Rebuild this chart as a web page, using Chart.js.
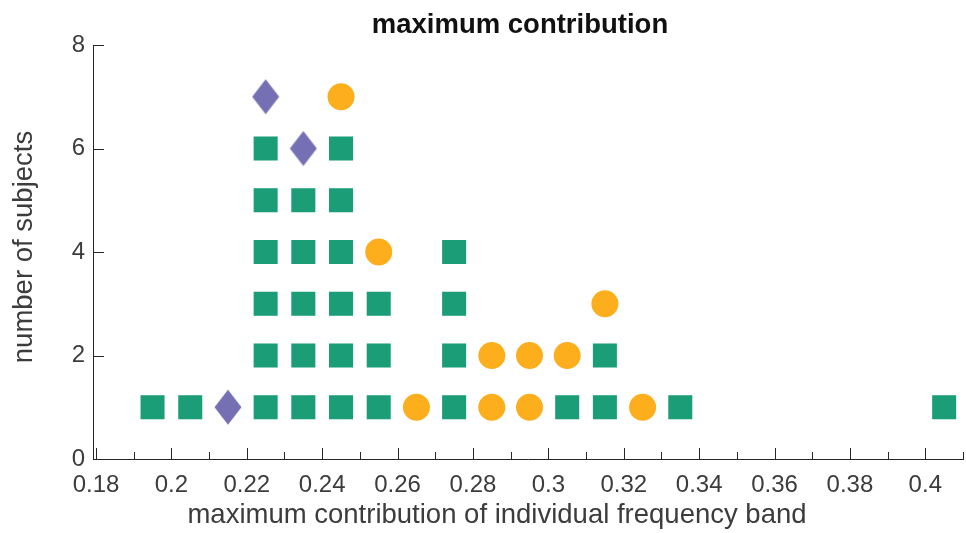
<!DOCTYPE html>
<html><head><meta charset="utf-8">
<script src="https://cdn.jsdelivr.net/npm/chart.js@4.4.1/dist/chart.umd.min.js"></script>
<style>html,body{margin:0;padding:0;background:#fff;}</style>
</head><body>
<canvas id="c" width="966" height="533"></canvas>
<script>
const titleText = 'maximum contribution';
const xLabelText = 'maximum contribution of individual frequency band';
const yLabelText = 'number of subjects';

const xTicks = [0.18,0.2,0.22,0.24,0.26,0.28,0.3,0.32,0.34,0.36,0.38,0.4];
const xTickLabels = ['0.18','0.2','0.22','0.24','0.26','0.28','0.3','0.32','0.34','0.36','0.38','0.4'];
const xMinorTicks = [0.19,0.21,0.23,0.25,0.27,0.29,0.31,0.33,0.35,0.37,0.39,0.41];
const yTicks = [0,2,4,6,8];

const squareX = [0.195,0.205,
  0.225,0.225,0.225,0.225,0.225,0.225,
  0.235,0.235,0.235,0.235,0.235,
  0.245,0.245,0.245,0.245,0.245,0.245,
  0.255,0.255,0.255,
  0.275,0.275,0.275,0.275,
  0.305,0.315,0.315,0.335,0.405];
const squareY = [1,1,
  1,2,3,4,5,6,
  1,2,3,4,5,
  1,2,3,4,5,6,
  1,2,3,
  1,2,3,4,
  1,1,2,1,1];
const circleX = [0.245,0.255,0.265,0.285,0.285,0.295,0.295,0.305,0.315,0.325];
const circleY = [7,4,1,1,2,1,2,2,3,1];
const diamondX = [0.215,0.225,0.235];
const diamondY = [1,7,6];

const GREEN = '#1b9e77', ORANGE = '#fdae1d', PURPLE = '#7570b3';
const AXIS = '#262626', TEXT = '#3c3c3c';
const FONT = '"Liberation Sans", Arial, Helvetica, sans-serif';

function pts(xs, ys){ return xs.map((x,i)=>({x:x, y:ys[i]})); }

// tall diamond marker
const dia = document.createElement('canvas');
dia.width = 28; dia.height = 36;
(function(){
  const g = dia.getContext('2d');
  g.fillStyle = PURPLE;
  g.beginPath();
  g.moveTo(14,0.5); g.lineTo(27.5,18); g.lineTo(14,35.5); g.lineTo(0.5,18);
  g.closePath(); g.fill();
})();

const decor = {
  id:'decor',
  afterDraw(chart){
    const ctx = chart.ctx, ca = chart.chartArea;
    const xs = chart.scales.x, ys = chart.scales.y;
    ctx.save();
    ctx.strokeStyle = AXIS; ctx.lineWidth = 1;
    ctx.beginPath();
    xTicks.forEach(v=>{ const px = Math.round(xs.getPixelForValue(v))+0.5; ctx.moveTo(px, ca.bottom); ctx.lineTo(px, ca.bottom-11); });
    xMinorTicks.forEach(v=>{ const px = Math.round(xs.getPixelForValue(v))+0.5; ctx.moveTo(px, ca.bottom); ctx.lineTo(px, ca.bottom-7); });
    yTicks.forEach(v=>{ const py = Math.round(ys.getPixelForValue(v))+0.5; ctx.moveTo(ca.left, py); ctx.lineTo(ca.left+11, py); });
    ctx.stroke();
    ctx.fillStyle = '#111';
    ctx.font = 'bold 27.5px ' + FONT;
    ctx.textAlign = 'center'; ctx.textBaseline = 'alphabetic';
    ctx.fillText(titleText, 520, 33);
    ctx.fillStyle = TEXT;
    ctx.font = '27.5px ' + FONT;
    ctx.fillText(xLabelText, 497, 523);
    ctx.translate(32, 247); ctx.rotate(-Math.PI/2);
    ctx.fillText(yLabelText, 0, 0);
    ctx.restore();
  }
};

new Chart(document.getElementById('c'), {
  type:'scatter',
  data:{ datasets:[
    {label:'squares', data:pts(squareX,squareY), pointStyle:'rect', pointRadius:17, backgroundColor:GREEN, borderWidth:0},
    {label:'circles', data:pts(circleX,circleY), pointStyle:'circle', pointRadius:13.5, backgroundColor:ORANGE, borderWidth:0},
    {label:'diamonds', data:pts(diamondX,diamondY), pointStyle:dia, pointRadius:14, backgroundColor:PURPLE, borderWidth:0}
  ]},
  options:{
    responsive:false, animation:false, devicePixelRatio:1,
    layout:{autoPadding:false, padding:{top:45,right:3,left:0,bottom:0}},
    plugins:{legend:{display:false}, tooltip:{enabled:false}, title:{display:false}},
    scales:{
      x:{ type:'linear', min:0.1792, max:0.41,
        afterFit(s){ s.height = 74; s.paddingLeft = 0; s.paddingRight = 0; },
        afterBuildTicks(s){ s.ticks = xTicks.map(v=>({value:v})); },
        grid:{display:false, drawTicks:false},
        border:{display:true, color:AXIS, width:1},
        ticks:{ autoSkip:false, maxRotation:0, padding:12, color:TEXT, font:{family:FONT, size:24},
          callback:(v,i)=>xTickLabels[i] }
      },
      y:{ type:'linear', min:0, max:8,
        afterFit(s){ s.width = 93; s.paddingTop = 0; s.paddingBottom = 0; },
        afterBuildTicks(s){ s.ticks = yTicks.map(v=>({value:v})); },
        grid:{display:false, drawTicks:false},
        border:{display:true, color:AXIS, width:1},
        ticks:{ padding:8, color:TEXT, font:{family:FONT, size:24}, callback:(v)=>String(v) }
      }
    }
  },
  plugins:[decor]
});
</script>
</body></html>
